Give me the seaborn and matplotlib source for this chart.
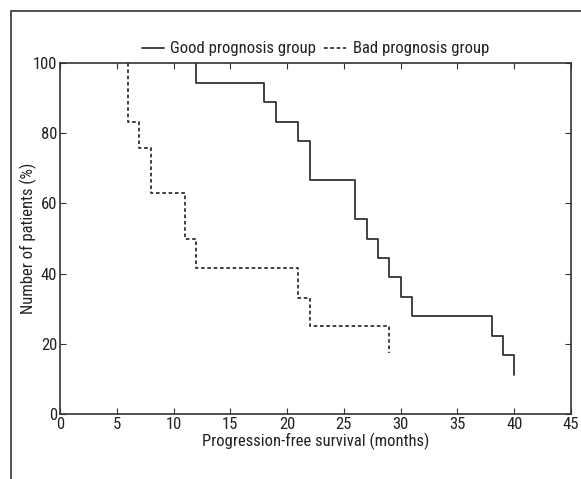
import matplotlib
matplotlib.use("Agg")
import matplotlib.pyplot as plt
import seaborn as sns
import pandas as pd
from matplotlib.patches import Rectangle
from matplotlib import font_manager

# Data
good_times = [12, 12, 18, 19, 21, 22, 26, 27, 28, 29, 30, 31, 38, 39, 40]
good_surv = [100, 94.4, 88.9, 83.3, 77.8, 66.7, 55.6, 50.0, 44.4, 38.9, 33.3, 27.8, 22.2, 16.7, 11.1]
bad_times = [6, 6, 7, 8, 11, 12, 21, 22, 29]
bad_surv = [100, 83.3, 75.9, 62.9, 50.0, 41.5, 33.0, 25.0, 17.3]
x_ticks = [0, 5, 10, 15, 20, 25, 30, 35, 40, 45]
y_ticks = [0, 20, 40, 60, 80, 100]

sns.set_theme(style="ticks")
avail = {f.name for f in font_manager.fontManager.ttflist}
fams = [f for f in ['Roboto Condensed', 'Liberation Sans Narrow', 'Liberation Sans'] if f in avail]
plt.rcParams['font.family'] = fams + ['DejaVu Sans']
narrow = bool(fams) and fams[0] != 'Liberation Sans'
fs = 12 if narrow else 10.5

fig = plt.figure(figsize=(5.81, 4.79), dpi=100)
ax = fig.add_axes([60/581, (479-414)/479, (571-60)/581, (414-63)/479])

col = "#333333"
good_df = pd.DataFrame({"t": good_times, "s": good_surv})
bad_df = pd.DataFrame({"t": bad_times, "s": bad_surv})
sns.lineplot(data=good_df, x="t", y="s", estimator=None, sort=False, ax=ax,
             drawstyle="steps-post", color=col, lw=1.3, label="Good prognosis group")
sns.lineplot(data=bad_df, x="t", y="s", estimator=None, sort=False, ax=ax,
             drawstyle="steps-post", color=col, lw=1.3, linestyle=(0, (2, 1.5)),
             label="Bad prognosis group")

ax.set_xlim(0, 45)
ax.set_ylim(0, 100)
ax.set_xticks(x_ticks)
ax.set_yticks(y_ticks)
ax.tick_params(direction="in", top=True, right=True, length=4, width=0.8,
               color=col, labelsize=fs, labelcolor="#222222", pad=2)
for sp in ax.spines.values():
    sp.set_color(col)
    sp.set_linewidth(1.2)
ax.set_xlabel("Progression-free survival (months)", fontsize=fs, color="#222222", labelpad=1)
ax.set_ylabel("Number of patients (%)", fontsize=fs, color="#222222")
ax.yaxis.set_label_coords((37 - 60) / 511, 0.5)

leg = ax.legend(loc="lower center", bbox_to_anchor=(0.5, 0.995), ncol=2, frameon=False,
                fontsize=fs, handlelength=1.3, handletextpad=0.4, columnspacing=0.5,
                borderaxespad=0.1)
for t in leg.get_texts():
    t.set_color("#222222")

# outer frame
fig.patches.append(Rectangle((11/581, -0.1), 1.2, (479-11)/479 + 0.1,
                             transform=fig.transFigure, fill=False,
                             edgecolor="#444444", lw=1.3))

fig.savefig("out.png", dpi=100)
